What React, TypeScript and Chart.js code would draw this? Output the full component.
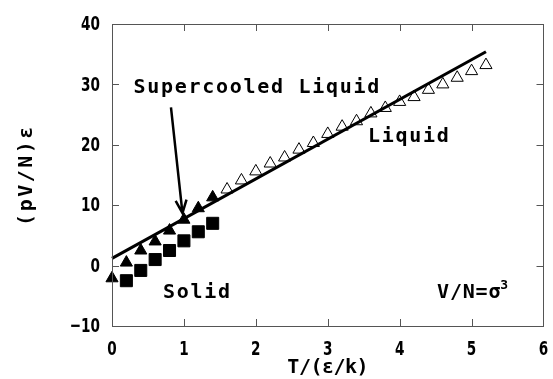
import React, { useEffect, useRef } from "react";
import { Chart, registerables } from "chart.js";

Chart.register(...registerables);

// ---- data ----
const supercooledT = [0, 0.2, 0.4, 0.6, 0.8, 1.0, 1.2, 1.4];
const supercooledP = [-2.1, 0.5, 2.5, 4.0, 5.8, 7.6, 9.5, 11.3];

const solidT = [0.2, 0.4, 0.6, 0.8, 1.0, 1.2, 1.4];
const solidP = [-2.5, -0.8, 1.0, 2.5, 4.1, 5.6, 7.0];

const liquidT = [1.6, 1.8, 2.0, 2.2, 2.4, 2.6, 2.8, 3.0, 3.2, 3.4, 3.6, 3.8, 4.0, 4.2, 4.4, 4.6, 4.8, 5.0, 5.2];
const liquidP = [12.6, 14.1, 15.6, 16.9, 17.9, 19.2, 20.3, 21.8, 23.0, 23.9, 25.2, 26.1, 27.1, 27.9, 29.1, 30.0, 31.1, 32.2, 33.2];

const fitT = [0, 5.2];
const fitP = [1.2, 35.4];

const xTicks = [0, 1, 2, 3, 4, 5, 6];
const yTicks = [-10, 0, 10, 20, 30, 40];
const xTickLabels = ["0", "1", "2", "3", "4", "5", "6"];
const yTickLabels = ["−10", "0", "10", "20", "30", "40"];

const xTitle = "T/(ε/k)";
const yTitle = "(pV/N)ε";

// annotations in data coordinates
const labels = [
  { text: "Supercooled Liquid", x: 0.3, y: 28.6 },
  { text: "Liquid", x: 3.56, y: 20.4 },
  { text: "Solid", x: 0.71, y: -5.3 },
];
const densityLabel = { text: "V/N=σ", sup: "3", x: 4.52, y: -5.3 };
const arrow = { fromX: 0.82, fromY: 26.2, toX: 0.98, toY: 8.7 };

const MONO = '"DejaVu Sans Mono", monospace';
const TICKFONT = '"DejaVu Sans", sans-serif';

function toPts(xs: number[], ys: number[]) {
  return xs.map((x, i) => ({ x, y: ys[i] }));
}

function condensedText(ctx: CanvasRenderingContext2D, text: string, x: number, y: number, align: "left" | "center" | "right", sx: number) {
  ctx.save();
  ctx.translate(x, y);
  ctx.scale(sx, 1);
  ctx.textAlign = align;
  ctx.fillText(text, 0, 0);
  ctx.restore();
}

const overlay = {
  id: "overlay",
  afterDraw(chart: any) {
    const { ctx, chartArea } = chart;
    const { left, right, top, bottom } = chartArea;
    const xs = chart.scales.x;
    const ys = chart.scales.y;
    ctx.save();
    // frame
    ctx.strokeStyle = "#555";
    ctx.lineWidth = 1;
    ctx.strokeRect(Math.round(left) + 0.5, Math.round(top) + 0.5, Math.round(right - left) - 1, Math.round(bottom - top));
    // inner ticks
    const tl = 7;
    ctx.beginPath();
    xTicks.slice(1, -1).forEach((v) => {
      const px = Math.round(xs.getPixelForValue(v)) + 0.5;
      ctx.moveTo(px, bottom);
      ctx.lineTo(px, bottom - tl);
      ctx.moveTo(px, top);
      ctx.lineTo(px, top + tl);
    });
    yTicks.slice(1, -1).forEach((v) => {
      const py = Math.round(ys.getPixelForValue(v)) + 0.5;
      ctx.moveTo(left, py);
      ctx.lineTo(left + tl, py);
      ctx.moveTo(right, py);
      ctx.lineTo(right - tl, py);
    });
    ctx.stroke();

    // tick labels (condensed bold)
    ctx.fillStyle = "#000";
    ctx.font = `bold 20px ${TICKFONT}`;
    ctx.textBaseline = "middle";
    yTicks.forEach((v, i) => {
      condensedText(ctx, yTickLabels[i], left - 12, ys.getPixelForValue(v) + 1, "right", 0.68);
    });
    ctx.textBaseline = "alphabetic";
    xTicks.forEach((v, i) => {
      condensedText(ctx, xTickLabels[i], xs.getPixelForValue(v), bottom + 29, "center", 0.68);
    });

    // annotation text
    ctx.textBaseline = "alphabetic";
    ctx.textAlign = "left";
    ctx.font = `bold 20px ${MONO}`;
    (ctx as any).letterSpacing = "1.7px";
    labels.forEach((l) => {
      ctx.fillText(l.text, xs.getPixelForValue(l.x), ys.getPixelForValue(l.y));
    });
    const dx = xs.getPixelForValue(densityLabel.x);
    const dy = ys.getPixelForValue(densityLabel.y);
    (ctx as any).letterSpacing = "0.8px";
    ctx.fillText(densityLabel.text, dx, dy);
    const w = ctx.measureText(densityLabel.text).width;
    ctx.font = `bold 13px ${MONO}`;
    (ctx as any).letterSpacing = "0px";
    ctx.fillText(densityLabel.sup, dx + w - 1, dy - 9);

    // arrow
    const ax0 = xs.getPixelForValue(arrow.fromX);
    const ay0 = ys.getPixelForValue(arrow.fromY);
    const ax1 = xs.getPixelForValue(arrow.toX);
    const ay1 = ys.getPixelForValue(arrow.toY);
    ctx.strokeStyle = "#000";
    ctx.lineWidth = 2.5;
    ctx.beginPath();
    ctx.moveTo(ax0, ay0);
    ctx.lineTo(ax1, ay1);
    const ang = Math.atan2(ay1 - ay0, ax1 - ax0);
    const hl = 14;
    const spread = 0.4;
    ctx.moveTo(ax1 - hl * Math.cos(ang - spread), ay1 - hl * Math.sin(ang - spread));
    ctx.lineTo(ax1, ay1);
    ctx.lineTo(ax1 - hl * Math.cos(ang + spread), ay1 - hl * Math.sin(ang + spread));
    ctx.stroke();

    // axis titles
    ctx.font = `bold 20px ${MONO}`;
    (ctx as any).letterSpacing = "-0.5px";
    ctx.textAlign = "center";
    ctx.fillText(xTitle, (left + right) / 2, 373);
    ctx.save();
    ctx.translate(27, (top + bottom) / 2);
    ctx.rotate(-Math.PI / 2);
    (ctx as any).letterSpacing = "2.5px";
    ctx.textBaseline = "middle";
    ctx.fillText(yTitle, 0, 0);
    ctx.restore();

    ctx.restore();
  },
};

export default function App() {
  const ref = useRef<HTMLCanvasElement | null>(null);
  useEffect(() => {
    document.body.style.margin = "0";
    const canvas = ref.current!;
    const chart = new Chart(canvas, {
      type: "scatter",
      data: {
        datasets: [
          {
            type: "line",
            data: toPts(fitT, fitP),
            borderColor: "#000",
            borderWidth: 3,
            pointRadius: 0,
            fill: false,
            clip: false as any,
          },
          {
            data: toPts(supercooledT, supercooledP),
            pointStyle: "triangle",
            pointRadius: 7,
            backgroundColor: "#000",
            borderColor: "#000",
            borderWidth: 1,
            clip: false as any,
          },
          {
            data: toPts(solidT, solidP),
            pointStyle: "rect",
            pointRadius: 8.5,
            backgroundColor: "#000",
            borderColor: "#000",
            borderWidth: 1,
            clip: false as any,
          },
          {
            data: toPts(liquidT, liquidP),
            pointStyle: "triangle",
            pointRadius: 7,
            backgroundColor: "#fff",
            borderColor: "#000",
            borderWidth: 1,
            clip: false as any,
          },
        ],
      },
      options: {
        animation: false,
        responsive: false,
        events: [],
        layout: { padding: { top: 24, right: 9, left: 0, bottom: 0 } },
        plugins: { legend: { display: false }, tooltip: { enabled: false } },
        scales: {
          x: {
            type: "linear",
            min: 0,
            max: 6,
            afterFit: (s: any) => {
              s.height = 53;
              s.paddingLeft = 0;
              s.paddingRight = 0;
            },
            grid: { display: false, drawTicks: false },
            border: { display: false },
            ticks: { display: false, stepSize: 1 },
          },
          y: {
            type: "linear",
            min: -10,
            max: 40,
            afterFit: (s: any) => {
              s.width = 112;
              s.paddingTop = 0;
              s.paddingBottom = 0;
            },
            grid: { display: false, drawTicks: false },
            border: { display: false },
            ticks: { display: false, stepSize: 10 },
          },
        },
      },
      plugins: [overlay],
    });
    return () => chart.destroy();
  }, []);
  return (
    <div style={{ position: "fixed", left: 0, top: 0, width: 553, height: 379, background: "#fff" }}>
      <canvas ref={ref} width={553} height={379} style={{ width: 553, height: 379, display: "block" }} />
    </div>
  );
}
